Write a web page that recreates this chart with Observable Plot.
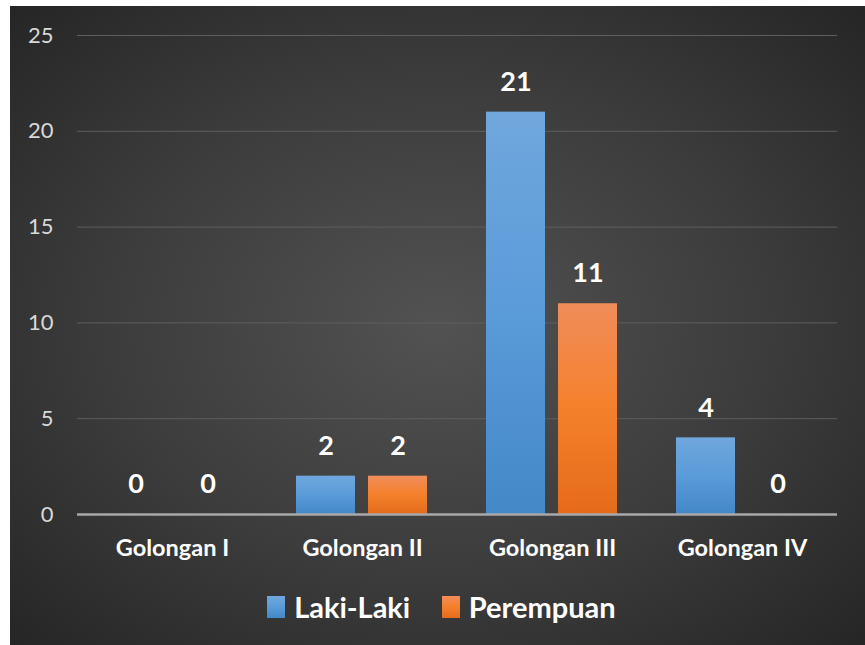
<!DOCTYPE html>
<html>
<head>
<meta charset="utf-8">
<script src="https://cdn.jsdelivr.net/npm/d3@7"></script>
<script src="https://cdn.jsdelivr.net/npm/@observablehq/plot@0.6"></script>
<style>
  html, body { margin: 0; padding: 0; background: #fff; }
  #page { position: relative; width: 865px; height: 645px; background: #fff; overflow: hidden; }
  #box {
    position: absolute; left: 10px; top: 6px; width: 855px; height: 639px;
    background: radial-gradient(ellipse 70% 70% at 50% 50%, #525252 0%, #3c3c3c 55%, #262626 100%);
  }
  #chart svg { display: block; }
  #legend { display: flex; justify-content: center; margin-top: 8px; margin-left: 40px; }
  #legend span { margin-right: 1.1em !important; }
  #legend span svg { margin-right: 0.3em !important; }
  #chart g[aria-label="y-axis tick label"] text, #chart g[aria-label="y-axis tick label"] { font-size: 22px; }
</style>
</head>
<body>
<svg width="0" height="0" style="position:absolute">
  <defs>
    <linearGradient id="gBlue" x1="0" y1="0" x2="0" y2="1">
      <stop offset="0" stop-color="#70a7dd"/>
      <stop offset="0.5" stop-color="#5a9bd9"/>
      <stop offset="1" stop-color="#4488c8"/>
    </linearGradient>
    <linearGradient id="gOrange" x1="0" y1="0" x2="0" y2="1">
      <stop offset="0" stop-color="#f08d5a"/>
      <stop offset="0.5" stop-color="#f5802b"/>
      <stop offset="1" stop-color="#e46b1b"/>
    </linearGradient>
  </defs>
</svg>
<div id="page">
  <div id="box">
    <div id="chart"></div>
    <div id="legend"></div>
  </div>
</div>
<script>
const categories = ["Golongan I", "Golongan II", "Golongan III", "Golongan IV"];
const seriesNames = ["Laki-Laki", "Perempuan"];
const lakiLaki = [0, 2, 21, 4];
const perempuan = [0, 2, 11, 0];
const yTicks = [0, 5, 10, 15, 20, 25];
const seriesFills = ["url(#gBlue)", "url(#gOrange)"];

const data = categories.flatMap((c, i) => [
  {cat: c, ser: seriesNames[0], v: lakiLaki[i]},
  {cat: c, ser: seriesNames[1], v: perempuan[i]}
]);

const font = "Lato, 'Open Sans', sans-serif";

const chart = Plot.plot({
  width: 855,
  height: 575,
  marginTop: 29,
  marginBottom: 67,
  marginLeft: 65,
  marginRight: 27,
  style: {background: "transparent", color: "#d9d9d9", fontFamily: font},
  fx: {domain: categories, padding: 0, label: null},
  x: {domain: seriesNames, paddingInner: 0.178, paddingOuter: 0.394, axis: null},
  y: {domain: [0, 25], label: null},
  color: {domain: seriesNames, range: seriesFills},
  marks: [
    Plot.gridY(yTicks, {stroke: "#5e5e5e", strokeOpacity: 1, strokeWidth: 1}),
    Plot.axisY(yTicks, {tickSize: 0, tickPadding: 24, fontSize: 22, fill: "#d9d9d9", label: null, ariaLabel: "y-axis tick label"}),
    Plot.barY(data, {fx: "cat", x: "ser", y: "v", fill: "ser", style: "filter: drop-shadow(2px 2px 3px rgba(0,0,0,0.45))"}),
    Plot.ruleY([0], {stroke: "#a8a8a8", strokeWidth: 2.5}),
    Plot.text(data, {fx: "cat", x: "ser", y: "v", text: d => String(d.v), dy: -30, fill: "white", fontSize: 27, fontWeight: "bold"}),
    Plot.axisFx({anchor: "bottom", tickSize: 0, tickPadding: 25, fontSize: 23.5, fontWeight: "bold", fill: "white", label: null})
  ]
});
document.getElementById("chart").appendChild(chart);

const legend = Plot.legend({
  color: {domain: seriesNames, range: seriesFills},
  swatchWidth: 18,
  swatchHeight: 22,
  style: {fontSize: "29px", fontWeight: "bold", color: "white", fontFamily: font, background: "transparent"}
});
document.getElementById("legend").appendChild(legend);
</script>
</body>
</html>
